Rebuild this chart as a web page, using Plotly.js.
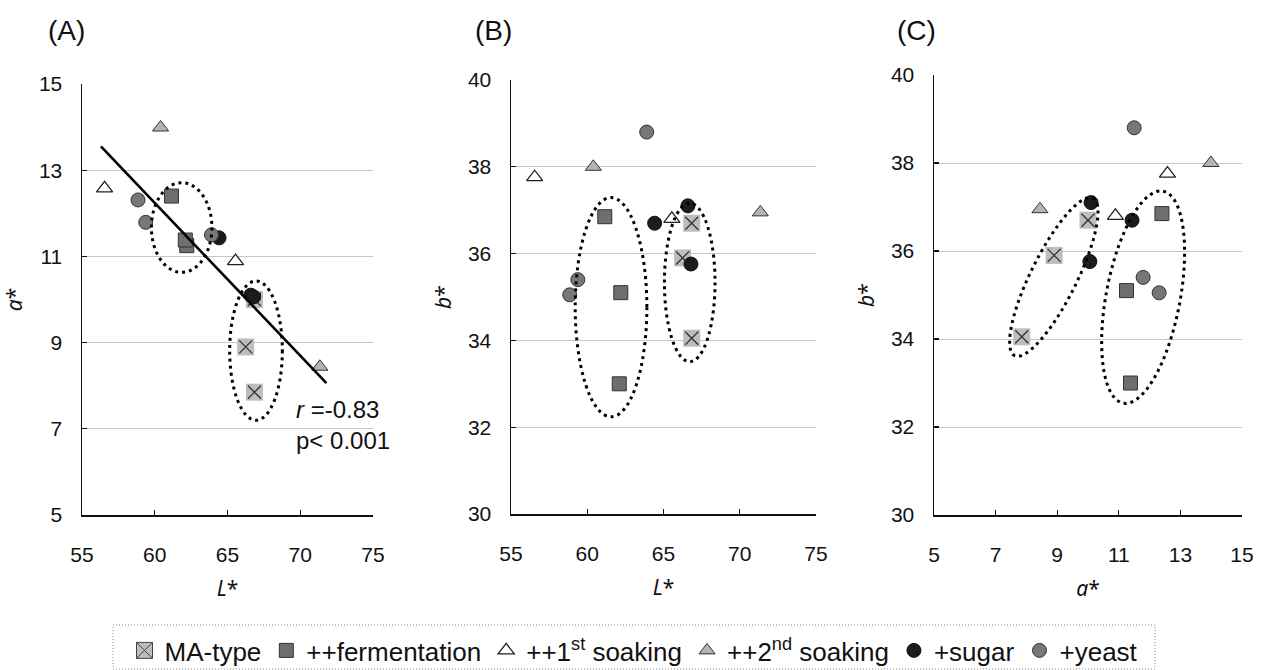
<!DOCTYPE html>
<html>
<head>
<meta charset="utf-8">
<script src="https://cdn.plot.ly/plotly-3.0.1.min.js"></script>
<style>html,body{margin:0;padding:0;background:#fff;}#chart{width:1266px;height:670px;}</style>
</head>
<body>
<div id="chart"></div>
<script>
// ---- Data (L*, a*, b*) per sample group ----
const MA_L  = [66.85, 66.25, 66.85];
const MA_a  = [10.0, 8.9, 7.85];
const MA_b  = [36.7, 35.9, 34.05];

const FER_L = [61.15, 62.2, 62.1];
const FER_a = [12.4, 11.25, 11.38];
const FER_b = [36.85, 35.1, 33.0];

const S1_L  = [56.55, 65.55];
const S1_a  = [12.58, 10.89];
const S1_b  = [37.76, 36.8];

const S2_L  = [60.4, 71.35];
const S2_a  = [13.99, 8.44];
const S2_b  = [38.0, 36.95];

const SUG_L = [64.42, 66.6, 66.8];
const SUG_a = [11.43, 10.1, 10.06];
const SUG_b = [36.7, 37.1, 35.76];

const YE_L  = [58.85, 59.38, 63.9];
const YE_a  = [12.31, 11.79, 11.5];
const YE_b  = [35.05, 35.4, 38.8];

const seriesNames = ['MA-type', '++fermentation', '++1<sup>st</sup> soaking', '++2<sup>nd</sup> soaking', '+sugar', '+yeast'];
const corrText = ['<i>r</i> =-0.83', 'p< 0.001'];
const panelLabels = ['(A)', '(B)', '(C)'];
const fitRange = [56.3, 71.8];

// Dotted grouping ellipses: [x0, x1, y0, y1] (axis aligned)
const ellA1 = [59.77, 63.93, 10.63, 12.71];
const ellA2 = [65.15, 68.77, 7.2, 10.43];
const ellB1 = [59.21, 63.91, 32.24, 37.29];
const ellB2 = [65.06, 68.38, 33.51, 37.16];
// Tilted ellipses in panel C: [cx, cy, ux, uy, vx, vy] (centre, half-axis vectors)
const ellC1 = [8.89, 35.41, 1.27, 1.79, 0.67, -0.23];
const ellC2 = [11.79, 34.95, 0.65, 2.41, 1.18, -0.16];

// ---- Styles ----
const styles = {
  ma:  {symbol:'square', size:17, color:'#bdbdbd', line:{width:0}},
  max: {symbol:'x-thin-open', size:13, color:'#333', line:{color:'#333', width:1.3}},
  fer: {symbol:'square', size:14, color:'#6e6e6e', line:{color:'#333', width:1}},
  s1:  {symbol:'triangle-up', size:14, color:'#ffffff', line:{color:'#222', width:1.3}},
  s2:  {symbol:'triangle-up', size:14, color:'#b4b4b4', line:{color:'#333', width:1}},
  sug: {symbol:'circle', size:14, color:'#1c1c1c', line:{color:'#111', width:1}},
  ye:  {symbol:'circle', size:14, color:'#777777', line:{color:'#333', width:1}}
};

const traces = [];
// legend-only MA entry (square with cross)
traces.push({x:[null], y:[null], type:'scatter', mode:'markers', name:seriesNames[0],
  marker:{symbol:'square-x', size:16, color:'#bdbdbd', line:{color:'#444', width:1}},
  xaxis:'x', yaxis:'y', hoverinfo:'skip', legendrank:1});

const panels = [
  {xa:'x',  ya:'y',  X:{ma:MA_L, fer:FER_L, s1:S1_L, s2:S2_L, sug:SUG_L, ye:YE_L}, Y:{ma:MA_a, fer:FER_a, s1:S1_a, s2:S2_a, sug:SUG_a, ye:YE_a}},
  {xa:'x2', ya:'y2', X:{ma:MA_L, fer:FER_L, s1:S1_L, s2:S2_L, sug:SUG_L, ye:YE_L}, Y:{ma:MA_b, fer:FER_b, s1:S1_b, s2:S2_b, sug:SUG_b, ye:YE_b}},
  {xa:'x3', ya:'y3', X:{ma:MA_a, fer:FER_a, s1:S1_a, s2:S2_a, sug:SUG_a, ye:YE_a}, Y:{ma:MA_b, fer:FER_b, s1:S1_b, s2:S2_b, sug:SUG_b, ye:YE_b}}
];
const order = [['ma',0],['max',0],['fer',1],['s1',2],['s2',3],['sug',4],['ye',5]];
panels.forEach((p, pi) => {
  order.forEach(([k, ni]) => {
    const key = (k === 'max') ? 'ma' : k;
    const showL = (pi === 0 && k !== 'ma' && k !== 'max');
    traces.push({
      x: p.X[key], y: p.Y[key], type:'scatter', mode:'markers',
      name: seriesNames[ni], showlegend: showL, legendrank: ni + 1,
      marker: styles[k], xaxis: p.xa, yaxis: p.ya, hoverinfo:'x+y'
    });
  });
});

// least-squares fit of a* on L*
const allL = [].concat(MA_L, FER_L, S1_L, S2_L, SUG_L, YE_L);
const allA = [].concat(MA_a, FER_a, S1_a, S2_a, SUG_a, YE_a);
const n = allL.length;
const mL = allL.reduce((s,v)=>s+v,0)/n, mA = allA.reduce((s,v)=>s+v,0)/n;
let sxy = 0, sxx = 0;
for (let i=0;i<n;i++){ sxy += (allL[i]-mL)*(allA[i]-mA); sxx += (allL[i]-mL)**2; }
const slope = sxy/sxx, icpt = mA - slope*mL;
traces.push({x: fitRange, y: fitRange.map(v => icpt + slope*v), type:'scatter', mode:'lines',
  line:{color:'#000', width:2.6}, showlegend:false, xaxis:'x', yaxis:'y', hoverinfo:'skip'});

// ---- Shapes ----
const dotLine = {color:'#000', width:3, dash:'3px,4px'};
function ellShape(e, xr, yr){ return {type:'circle', xref:xr, yref:yr, x0:e[0], x1:e[1], y0:e[2], y1:e[3], line:dotLine, layer:'above'}; }
function tiltShape(e, xr, yr){
  const pts = [];
  for (let k=0;k<=72;k++){
    const t = 2*Math.PI*k/72;
    pts.push((e[0]+e[2]*Math.cos(t)+e[4]*Math.sin(t)).toFixed(4)+','+(e[1]+e[3]*Math.cos(t)+e[5]*Math.sin(t)).toFixed(4));
  }
  return {type:'path', xref:xr, yref:yr, path:'M'+pts.join('L')+'Z', line:dotLine, layer:'above'};
}
const W = 1266, H = 670;
const px = v => v/W, py = v => 1 - v/H;
const shapes = [
  ellShape(ellA1,'x','y'), ellShape(ellA2,'x','y'),
  ellShape(ellB1,'x2','y2'), ellShape(ellB2,'x2','y2'),
  tiltShape(ellC1,'x3','y3'), tiltShape(ellC2,'x3','y3'),
  {type:'rect', xref:'paper', yref:'paper', x0:px(113), x1:px(1155), y0:py(669), y1:py(625),
   line:{color:'#8a8a8a', width:1, dash:'1px,2px'}, layer:'below'}
];

// ---- Axes ----
const axBase = {showline:true, linecolor:'#111', linewidth:1.5, ticks:'inside', ticklen:5,
  tickcolor:'#111', tickwidth:1.2, zeroline:false, fixedrange:true, automargin:false,
  tickfont:{family:'Liberation Sans, Arial, sans-serif', size:21, color:'#111'}};
const titleFont = {family:'Noto Sans, DejaVu Sans, sans-serif', size:21, color:'#111'};
function xa(dom, range, dtick, title, anchor){
  return Object.assign({}, axBase, {domain:dom, range:range, dtick:dtick, tick0:range[0], showgrid:false,
    anchor:anchor, ticklabelstandoff:20, title:{text:title, font:titleFont, standoff:16}});
}
function ya(dom, range, dtick, title, anchor){
  return Object.assign({}, axBase, {domain:dom, range:range, dtick:dtick, tick0:range[0],
    showgrid:true, gridcolor:'#c6c6c6', gridwidth:1, anchor:anchor, ticklabelstandoff:14,
    title:{text:title, font:titleFont, standoff:10}});
}

const layout = {
  width:W, height:H, margin:{l:0, r:0, t:0, b:0, autoexpand:false},
  paper_bgcolor:'#fff', plot_bgcolor:'#fff',
  font:{family:'Liberation Sans, Arial, sans-serif', size:21, color:'#111'},
  xaxis:  xa([px(82), px(373)],  [55,75], 5, '<i>L</i>*', 'y'),
  yaxis:  ya([py(515), py(84)],  [5,15],  2, '<i>a</i>*', 'x'),
  xaxis2: xa([px(511), px(816)], [55,75], 5, '<i>L</i>*', 'y2'),
  yaxis2: ya([py(514), py(80)],  [30,40], 2, '<i>b</i>*', 'x2'),
  xaxis3: xa([px(934), px(1242)],[5,15],  2, '<i>a</i>*', 'y3'),
  yaxis3: ya([py(515), py(75)],  [30,40], 2, '<i>b</i>*', 'x3'),
  showlegend:true,
  legend:{orientation:'h', x:px(634), xanchor:'center', y:py(627), yanchor:'top',
    font:{family:'Liberation Sans, Arial, sans-serif', size:26, color:'#111'},
    bgcolor:'rgba(0,0,0,0)', borderwidth:0, itemwidth:30, traceorder:'normal'},
  shapes: shapes,
  annotations: [
    {xref:'paper', yref:'paper', x:px(66), y:py(30), text:panelLabels[0], showarrow:false, font:{size:28}, xanchor:'center', yanchor:'middle'},
    {xref:'paper', yref:'paper', x:px(493), y:py(30), text:panelLabels[1], showarrow:false, font:{size:28}, xanchor:'center', yanchor:'middle'},
    {xref:'paper', yref:'paper', x:px(916), y:py(30), text:panelLabels[2], showarrow:false, font:{size:28}, xanchor:'center', yanchor:'middle'},
    {xref:'paper', yref:'paper', x:px(294), y:py(425), text:corrText.join('<br>'), showarrow:false, align:'left',
     font:{size:24}, xanchor:'left', yanchor:'middle'}
  ]
};

Plotly.newPlot('chart', traces, layout, {staticPlot:true, displayModeBar:false});
</script>
</body>
</html>
